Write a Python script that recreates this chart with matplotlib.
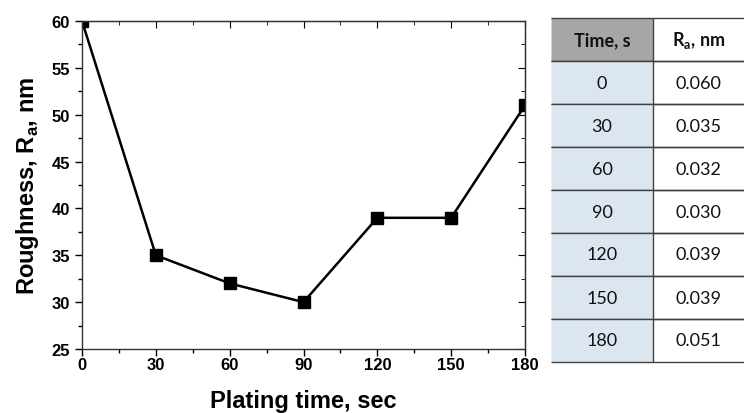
import matplotlib
matplotlib.use("Agg")
import matplotlib.pyplot as plt
from matplotlib.ticker import MultipleLocator

# data
time_s = [0, 30, 60, 90, 120, 150, 180]
roughness_nm = [60, 35, 32, 30, 39, 39, 51]

# table contents
table_header = ["Time, s", r"R$_\mathregular{a}$, nm"]
table_time = ["0", "30", "60", "90", "120", "150", "180"]
table_ra = ["0.060", "0.035", "0.032", "0.030", "0.039", "0.039", "0.051"]

plt.rcParams['font.family'] = ['Liberation Sans', 'DejaVu Sans']
plt.rcParams['font.weight'] = 'bold'

fig = plt.figure(figsize=(7.44, 4.14), dpi=100)
W, H = 744, 414

# main plot
ax = fig.add_axes([82 / W, 1 - 350 / H, (525 - 82) / W, (350 - 22) / H])
ax.plot(time_s, roughness_nm, color='black', lw=1.8, marker='s', ms=8.5,
        clip_on=True)
ax.set_xlim(0, 180)
ax.set_ylim(25, 60)
ax.xaxis.set_major_locator(MultipleLocator(30))
ax.xaxis.set_minor_locator(MultipleLocator(15))
ax.yaxis.set_major_locator(MultipleLocator(5))
ax.yaxis.set_minor_locator(MultipleLocator(2.5))
ax.tick_params(which='both', direction='out', width=1, labelsize=12)
ax.tick_params(which='major', length=5)
ax.tick_params(which='minor', length=3)
ax.tick_params(axis='x', pad=1)
for lab in ax.get_xticklabels() + ax.get_yticklabels():
    lab.set_fontweight('bold')
for sp in ax.spines.values():
    sp.set_linewidth(1)
    sp.set_color('#333333')

# inward ticks on top and right
axt = ax.secondary_xaxis('top')
axt.xaxis.set_major_locator(MultipleLocator(30))
axt.xaxis.set_minor_locator(MultipleLocator(15))
axt.tick_params(which='both', direction='in', labeltop=False)
axt.tick_params(which='major', length=5)
axt.tick_params(which='minor', length=3)
axr = ax.secondary_yaxis('right')
axr.yaxis.set_major_locator(MultipleLocator(5))
axr.yaxis.set_minor_locator(MultipleLocator(2.5))
axr.tick_params(which='both', direction='in', labelright=False)
axr.tick_params(which='major', length=5)
axr.tick_params(which='minor', length=3)

ax.set_xlabel("Plating time, sec", fontsize=17, fontweight='bold', labelpad=12)
ax.set_ylabel(r"Roughness, R$_\mathregular{a}$, nm", fontsize=17,
              fontweight='bold', labelpad=8)

# table on the right
tax = fig.add_axes([551 / W, 1 - 363 / H, (744 - 551) / W, (363 - 19) / H])
tax.axis('off')
cell_text = [table_header] + [[t, r] for t, r in zip(table_time, table_ra)]
colours = [['#a6a6a6', '#a6a6a6']] + [['#dce6f1', 'white']] * len(table_time)
tb = tax.table(cellText=cell_text, cellColours=colours, cellLoc='center',
               bbox=[0, 0, 1, 1])
tb.auto_set_font_size(False)
for (r, c), cell in tb.get_celld().items():
    cell.set_edgecolor('#404040')
    cell.set_linewidth(1)
    cell.visible_edges = 'BTR' if c == 0 else 'BT'
    txt = cell.get_text()
    txt.set_fontfamily(['Lato', 'DejaVu Sans'])
    txt.set_fontsize(13)
    txt.set_fontweight('bold' if r == 0 else 'normal')
    txt.set_color('#111111')
# column widths: divider at x=653
w0 = (653 - 551) / (744 - 551)
for (r, c), cell in tb.get_celld().items():
    cell.set_width(w0 if c == 0 else 1 - w0)

fig.savefig("out.png", dpi=100)
